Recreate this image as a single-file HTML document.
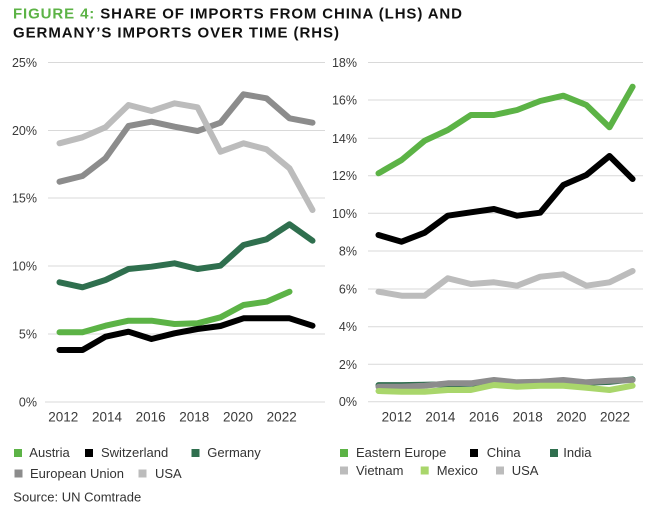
<!DOCTYPE html>
<html><head><meta charset="utf-8"><style>
html,body{margin:0;padding:0;background:#fff;}
svg{display:block;}
</style></head><body>
<svg width="653" height="513" viewBox="0 0 653 513" xmlns="http://www.w3.org/2000/svg" font-family="Liberation Sans, Arial, sans-serif">
<rect width="653" height="513" fill="#fff"/>
<!-- Title -->
<text x="13" y="18.5" font-size="15" font-weight="bold" fill="#111" textLength="449" lengthAdjust="spacing"><tspan fill="#5cb346">FIGURE 4:</tspan> SHARE OF IMPORTS FROM CHINA (LHS) AND</text>
<text x="13" y="37.5" font-size="15" font-weight="bold" fill="#111" textLength="326" lengthAdjust="spacing">GERMANY’S IMPORTS OVER TIME (RHS)</text>

<!-- Left gridlines -->
<g stroke="#d9d9d9" stroke-width="1">
<line x1="48" y1="62.5" x2="325" y2="62.5"/>
<line x1="48" y1="130.5" x2="325" y2="130.5"/>
<line x1="48" y1="198" x2="325" y2="198"/>
<line x1="48" y1="266" x2="325" y2="266"/>
<line x1="48" y1="334" x2="325" y2="334"/>
<line x1="45" y1="402" x2="325" y2="402"/>
</g>
<g font-size="12.5" fill="#3a3a3a" text-anchor="end">
<text x="37" y="67">25%</text>
<text x="37" y="135">20%</text>
<text x="37" y="202.5">15%</text>
<text x="37" y="270.5">10%</text>
<text x="37" y="338.5">5%</text>
<text x="37" y="406.5">0%</text>
</g>
<g font-size="13.5" fill="#3a3a3a" text-anchor="middle">
<text x="63.3" y="421.5">2012</text>
<text x="107" y="421.5">2014</text>
<text x="150.6" y="421.5">2016</text>
<text x="194.3" y="421.5">2018</text>
<text x="238" y="421.5">2020</text>
<text x="281.7" y="421.5">2022</text>
</g>

<!-- Right gridlines -->
<g stroke="#d9d9d9" stroke-width="1">
<line x1="368" y1="62.5" x2="643" y2="62.5"/>
<line x1="368" y1="100" x2="643" y2="100"/>
<line x1="368" y1="138.3" x2="643" y2="138.3"/>
<line x1="368" y1="175.7" x2="643" y2="175.7"/>
<line x1="368" y1="213.3" x2="643" y2="213.3"/>
<line x1="368" y1="251" x2="643" y2="251"/>
<line x1="368" y1="289" x2="643" y2="289"/>
<line x1="368" y1="326.7" x2="643" y2="326.7"/>
<line x1="368" y1="364.3" x2="643" y2="364.3"/>
<line x1="368" y1="401.7" x2="643" y2="401.7"/>
</g>
<g font-size="12.5" fill="#3a3a3a" text-anchor="end">
<text x="357" y="67">18%</text>
<text x="357" y="104.5">16%</text>
<text x="357" y="142.8">14%</text>
<text x="357" y="180.2">12%</text>
<text x="357" y="217.8">10%</text>
<text x="357" y="255.5">8%</text>
<text x="357" y="293.5">6%</text>
<text x="357" y="331.2">4%</text>
<text x="357" y="368.8">2%</text>
<text x="357" y="406.2">0%</text>
</g>
<g font-size="13.5" fill="#3a3a3a" text-anchor="middle">
<text x="396.7" y="421.5">2012</text>
<text x="440.4" y="421.5">2014</text>
<text x="484" y="421.5">2016</text>
<text x="527.7" y="421.5">2018</text>
<text x="571.4" y="421.5">2020</text>
<text x="615" y="421.5">2022</text>
</g>

<!-- Left series -->
<g fill="none" stroke-width="6" stroke-linejoin="round" stroke-linecap="round">
<polyline stroke="#8c8c8c" points="59.5,181.7 82.5,176 105.5,158.3 128.5,126 151.5,121.7 174.5,126.7 197.5,131 220.5,122.7 243.5,94.3 266.5,98.3 289.5,118.3 312.5,122.7"/>
<polyline stroke="#bcbcbc" points="59.5,143.3 82.5,137.3 105.5,127.3 128.5,105 151.5,111 174.5,103.3 197.5,107.3 220.5,151.7 243.5,143.3 266.5,149.3 289.5,168.3 312.5,210"/>
<polyline stroke="#2f6f4e" points="59.5,282.3 82.5,287.3 105.5,280 128.5,269 151.5,266.7 174.5,263.3 197.5,269 220.5,265.7 243.5,245 266.5,239.3 289.5,224.3 312.5,240.7"/>
<polyline stroke="#5cb346" points="59.5,332.3 82.5,332.3 105.5,325.7 128.5,320.7 151.5,320.7 174.5,324 197.5,323.3 220.5,317.3 243.5,305 266.5,301.7 289.5,291.7"/>
<polyline stroke="#000" points="59.5,350 82.5,350 105.5,336.7 128.5,331.7 151.5,339 174.5,333.3 197.5,329 220.5,326 243.5,318.3 266.5,318.3 289.5,318.3 312.5,325.7"/>
</g>

<!-- Right series -->
<g fill="none" stroke-width="6" stroke-linejoin="round" stroke-linecap="round">
<polyline stroke="#5cb346" points="378.5,173.3 401.6,160 424.7,140.7 447.8,130 470.9,115 494,115 517.1,110 540.2,101 563.3,95.7 586.4,105 609.5,127.3 632.6,86.7"/>
<polyline stroke="#000" points="378.5,235 401.6,241.7 424.7,232.7 447.8,215.7 470.9,212.3 494,209 517.1,215.7 540.2,212.7 563.3,185 586.4,175 609.5,156 632.6,179"/>
<polyline stroke="#2f6f4e" points="378.5,385.1 401.6,385.1 424.7,384.7 447.8,384.3 470.9,383.8 494,382.8 517.1,383.2 540.2,382.8 563.3,382.5 586.4,382.8 609.5,381.9 632.6,379.4"/>
<polyline stroke="#8c8c8c" points="378.5,386.7 401.6,386.7 424.7,385.7 447.8,383.3 470.9,383.3 494,380 517.1,382.3 540.2,381.7 563.3,380 586.4,382.3 609.5,380.7 632.6,380"/>
<polyline stroke="#a9d66b" points="378.5,391 401.6,391.7 424.7,391.7 447.8,390 470.9,390 494,385 517.1,386.7 540.2,385.7 563.3,385.7 586.4,387.7 609.5,390 632.6,385.7"/>
<polyline stroke="#bcbcbc" points="378.5,291.7 401.6,295.7 424.7,295.7 447.8,278.3 470.9,284 494,282.3 517.1,285.7 540.2,276.7 563.3,274.3 586.4,285.7 609.5,282.3 632.6,271"/>
</g>

<!-- Left legend -->
<g font-size="13" fill="#333">
<rect x="14" y="449" width="8" height="8" fill="#5cb346"/>
<text x="29.3" y="457">Austria</text>
<rect x="85" y="449" width="8" height="8" fill="#000"/>
<text x="101" y="457">Switzerland</text>
<rect x="191.5" y="449" width="8" height="8" fill="#2f6f4e"/>
<text x="207.3" y="457">Germany</text>
<rect x="14.5" y="469.5" width="8" height="8" fill="#8c8c8c"/>
<text x="30" y="478">European Union</text>
<rect x="138.5" y="469.5" width="8" height="8" fill="#bcbcbc"/>
<text x="155" y="478">USA</text>
<text x="13.3" y="501.5">Source: UN Comtrade</text>
</g>

<!-- Right legend -->
<g font-size="13" fill="#333">
<rect x="340" y="449" width="8" height="8" fill="#5cb346"/>
<text x="356" y="457">Eastern Europe</text>
<rect x="470" y="449" width="8" height="8" fill="#000"/>
<text x="486.7" y="457">China</text>
<rect x="550" y="449" width="8" height="8" fill="#2f6f4e"/>
<text x="563.3" y="457">India</text>
<rect x="340" y="466.5" width="8" height="8" fill="#bcbcbc"/>
<text x="356" y="475">Vietnam</text>
<rect x="420.7" y="466.5" width="8" height="8" fill="#a9d66b"/>
<text x="436.7" y="475">Mexico</text>
<rect x="496" y="466.5" width="8" height="8" fill="#bcbcbc"/>
<text x="511.7" y="475">USA</text>
</g>
</svg>
</body></html>
